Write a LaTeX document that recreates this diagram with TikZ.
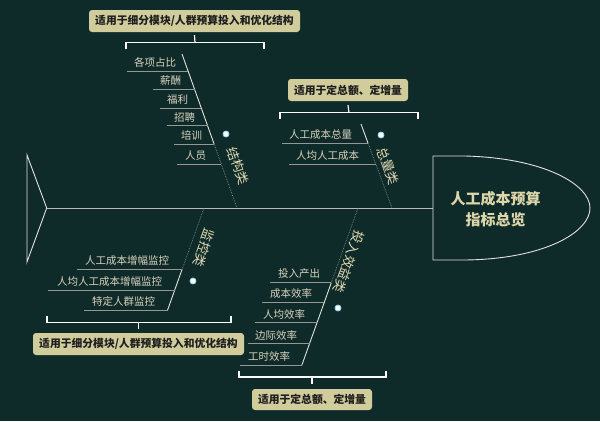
\documentclass[tikz,border=0pt]{standalone}
\usepackage{fontspec}
\setmainfont{Noto Sans CJK SC}
\definecolor{bg}{RGB}{15,43,41}
\definecolor{bone}{RGB}{225,225,225}
\definecolor{sub}{RGB}{150,150,150}
\definecolor{txt}{RGB}{215,210,190}
\definecolor{lbl}{RGB}{225,218,180}
\definecolor{call}{RGB}{208,204,156}
\definecolor{calltxt}{RGB}{30,30,30}
\definecolor{headtxt}{RGB}{220,214,170}
\definecolor{dotring}{RGB}{160,210,240}
\begin{document}
\begin{tikzpicture}[x=1pt,y=-1pt,
  subtext/.style={anchor=west,inner sep=0pt,text=txt,font=\fontsize{10.5}{12}\selectfont},
  underl/.style={draw=sub,line width=0.8pt},
  bonesolid/.style={draw=bone,line width=0.9pt},
  bonefade/.style={draw=bone!55!bg,line width=0.7pt,densely dotted},
  spine/.style={draw=bone!80!bg,line width=1pt},
  bonelabel/.style={text=lbl,font=\fontsize{13}{14}\selectfont,inner sep=0pt},
  dotmark/.style={circle,fill=white,draw=dotring,line width=0.8pt,inner sep=0pt,minimum size=6pt},
  callout/.style={fill=call,rounded corners=3pt,text=calltxt,font=\bfseries\fontsize{10.8}{12}\selectfont,minimum height=22pt,inner sep=0pt},
  bracket/.style={draw=white,line width=1.2pt},
  headtext/.style={text=headtxt,font=\bfseries\fontsize{15}{21.5}\selectfont,align=center,inner sep=0pt}
]
\fill[bg] (0,0) rectangle (600,421);
\useasboundingbox (0,0) rectangle (600,421);

% tail, spine, head
\coordinate (tailT) at (27,155);
\coordinate (tailB) at (27,262);
\coordinate (tailTip) at (46.7,208);
\coordinate (headL) at (433,208);
\draw[bonesolid] (tailT) -- (tailTip) -- (tailB) -- cycle;
\draw[spine] (tailTip) -- (headL);
\draw[bonesolid] (433,156) -- (465,156) .. controls (545,158) and (590,185) .. (590,208)
  .. controls (590,232) and (545,259) .. (465,260) -- (433,260) -- cycle;
\node[headtext] (head) at (495.5,209) {人工成本预算\\指标总览};

% bone A : 结构类
\coordinate (A1) at (182,54);
\coordinate (Am) at (214.1,144);
\coordinate (A0) at (237,208);
\draw[bonesolid] (A1) -- (Am);
\draw[bonefade] (Am) -- (A0);
\coordinate (a1s) at (127,71);    \coordinate (a1e) at (188.1,71);
\coordinate (a2s) at (153,89.3);  \coordinate (a2e) at (194.5,89.3);
\coordinate (a3s) at (160,108.3); \coordinate (a3e) at (201.4,108.3);
\coordinate (a4s) at (167,125.7); \coordinate (a4e) at (207.6,125.7);
\coordinate (a5s) at (174,144);   \coordinate (a5e) at (214.1,144);
\coordinate (a6s) at (177,164.3); \coordinate (a6e) at (221.4,164.3);
\foreach \i in {1,...,6} {\draw[underl] (a\i s) -- (a\i e);}
\node[subtext] (ta1) at (134,62.5) {各项占比};
\node[subtext] (ta2) at (160,81) {薪酬};
\node[subtext] (ta3) at (167,100) {福利};
\node[subtext] (ta4) at (174,117.5) {招聘};
\node[subtext] (ta5) at (181,135.5) {培训};
\node[subtext] (ta6) at (185,156) {人员};
\node[dotmark] (dA) at (226,134) {};
\node[bonelabel,rotate=-70.35] (lA) at (238,166) {结构类};

% bone B : 总量类
\coordinate (B1) at (361,124);
\coordinate (Bm) at (368,143);
\coordinate (B0) at (392,208);
\draw[bonesolid] (B1) -- (Bm);
\draw[bonefade] (Bm) -- (B0);
\coordinate (b1s) at (282,143); \coordinate (b1e) at (368,143);
\coordinate (b2s) at (289,164); \coordinate (b2e) at (375.8,164);
\draw[underl] (b1s) -- (b1e);
\draw[underl] (b2s) -- (b2e);
\node[subtext] (tb1) at (289,134.5) {人工成本总量};
\node[subtext] (tb2) at (296,155.5) {人均人工成本};
\node[dotmark] (dB) at (381,135) {};
\node[bonelabel,rotate=-70.35] (lB) at (388,166) {总量类};

% bone C : 监控类
\coordinate (C0) at (204,208);
\coordinate (Cm) at (182.1,269.3);
\coordinate (C1) at (167.6,310);
\draw[bonefade] (C0) -- (Cm);
\draw[bonesolid] (Cm) -- (C1);
\coordinate (c1s) at (77,269.3); \coordinate (c1e) at (182.1,269.3);
\coordinate (c2s) at (48,290);   \coordinate (c2e) at (174.7,290);
\coordinate (c3s) at (84,310);   \coordinate (c3e) at (167.6,310);
\foreach \i in {1,2,3} {\draw[underl] (c\i s) -- (c\i e);}
\node[subtext] (tc1) at (85,260.5) {人工成本增幅监控};
\node[subtext] (tc2) at (57,281.5) {人均人工成本增幅监控};
\node[subtext] (tc3) at (92,301.5) {特定人群监控};
\node[dotmark] (dC) at (193,281) {};
\node[bonelabel,rotate=-109.65] (lC) at (204,248) {监控类};

% bone D : 投入效益类
\coordinate (D0) at (358,208);
\coordinate (Dm) at (331.3,282.7);
\coordinate (D1) at (301.8,365.3);
\draw[bonefade] (D0) -- (Dm);
\draw[bonesolid] (Dm) -- (D1);
\coordinate (d1s) at (270,282.7); \coordinate (d1e) at (331.3,282.7);
\coordinate (d2s) at (262,302.7); \coordinate (d2e) at (324.2,302.7);
\coordinate (d3s) at (255,322.7); \coordinate (d3e) at (317.0,322.7);
\coordinate (d4s) at (248,343.3); \coordinate (d4e) at (309.7,343.3);
\coordinate (d5s) at (240,365.3); \coordinate (d5e) at (301.8,365.3);
\foreach \i in {1,...,5} {\draw[underl] (d\i s) -- (d\i e);}
\node[subtext] (td1) at (278,274) {投入产出};
\node[subtext] (td2) at (270,294) {成本效率};
\node[subtext] (td3) at (263,314) {人均效率};
\node[subtext] (td4) at (255,335) {边际效率};
\node[subtext] (td5) at (248,356.7) {工时效率};
\node[dotmark] (dD) at (338,308) {};
\node[bonelabel,rotate=-109.65] (lD) at (349,262) {投入效益类};

% callouts and brackets
\node[callout,minimum width=211pt] (callA) at (194.5,21) {适用于细分模块/人群预算投入和优化结构};
\coordinate (brA) at (195,42.7);
\draw[bracket] (126,49.3) -- (126,42.7) -- (264,42.7) -- (264,49.3);
\draw[bracket] (callA.south) ++(0,3) -- (brA);

\node[callout,minimum width=120pt] (callB) at (348,90) {适用于定总额、定增量};
\coordinate (brB) at (349,112.7);
\draw[bracket] (280,119) -- (280,112.7) -- (418,112.7) -- (418,119);
\draw[bracket] (callB.south) ++(0,4) -- (brB);

\node[callout,minimum width=211pt] (callC) at (138.5,344) {适用于细分模块/人群预算投入和优化结构};
\coordinate (brC) at (138.5,322.7);
\draw[bracket] (47,316) -- (47,322.7) -- (231,322.7) -- (231,316);
\draw[bracket] (callC.north) ++(0,-3.5) -- (brC);

\node[callout,minimum width=120pt,minimum height=21pt] (callD) at (312,399.5) {适用于定总额、定增量};
\coordinate (brD) at (312,377);
\draw[bracket] (239,371) -- (239,377) -- (386,377) -- (386,371);
\draw[bracket] (callD.north) ++(0,-5) -- (brD);
\end{tikzpicture}
\end{document}
